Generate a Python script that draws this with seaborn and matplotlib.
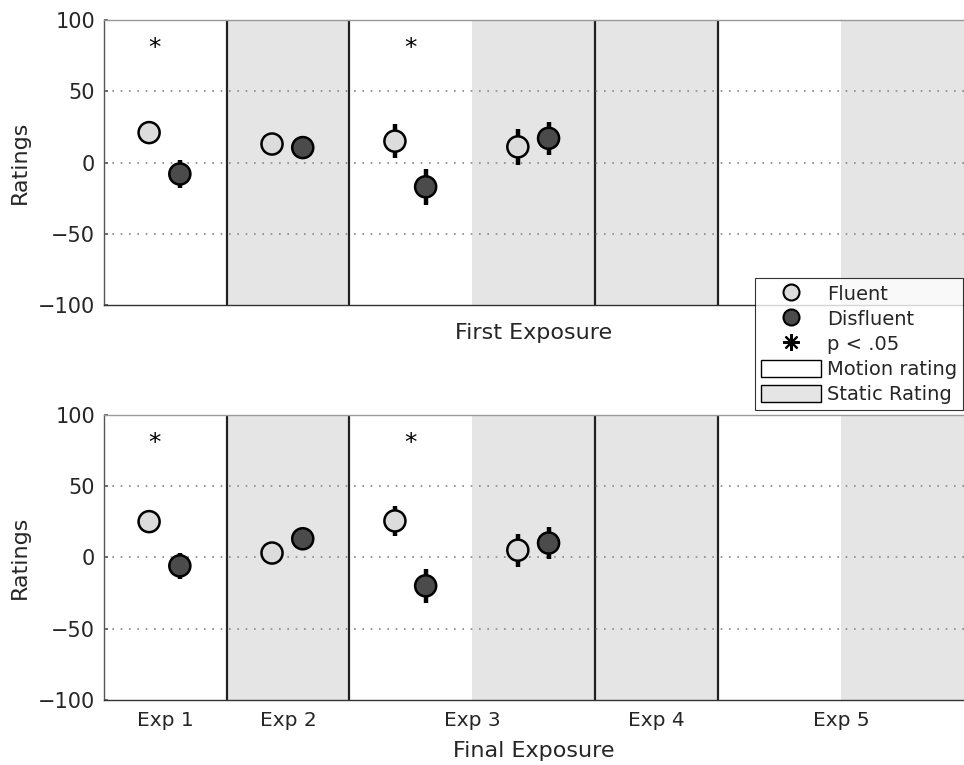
import matplotlib
matplotlib.use("Agg")
import matplotlib.pyplot as plt
from matplotlib.lines import Line2D
from matplotlib.patches import Patch
import seaborn as sns
import pandas as pd

# data
conditions = ["Exp 1", "Exp 2", "Exp 3 motion", "Exp 3 static"]
fluent_first = [21, 13, 15, 11]
fluent_first_err = [8, 4, 12, 12.5]
disfluent_first = [-8, 10.5, -17, 17]
disfluent_first_err = [9.5, 4, 12.5, 11.5]

fluent_final = [25, 3, 25.5, 5]
fluent_final_err = [6, 3, 10.5, 11.5]
disfluent_final = [-6, 13, -20, 10]
disfluent_final_err = [9, 4, 12, 11.5]

sig_conditions = ["Exp 1", "Exp 3 motion"]
sig_level = 80

exp_labels = ["Exp 1", "Exp 2", "Exp 3", "Exp 4", "Exp 5"]

# layout of the x axis: one slot per rating block
slot = {"Exp 1": 0, "Exp 2": 1, "Exp 3 motion": 2, "Exp 3 static": 3}
static_slots = [1, 3, 4, 6]
dividers = [1, 2, 4, 5]
exp_tick_pos = [0.5, 1.5, 3.0, 4.5, 6.0]
sig_offset = {"Exp 1": 0.41, "Exp 3 motion": 0.5}

sns.set_theme(style="white")
plt.rcParams["font.family"] = ["DejaVu Sans"]

fig = plt.figure(figsize=(9.64, 7.65), dpi=100)
ax_top = fig.add_axes([0.1075, 0.601, 0.8925, 0.373])
ax_bot = fig.add_axes([0.1075, 0.085, 0.8925, 0.373])

fl_color = "#dcdcdc"
dis_color = "#4b4b4b"
static_color = "#e5e5e5"


def draw_panel(ax, fl, fl_err, dis, dis_err, xlabel, show_ticks):
    df = pd.DataFrame({
        "cond": conditions * 2,
        "group": ["Fluent"] * 4 + ["Disfluent"] * 4,
        "rating": fl + dis,
        "err": fl_err + dis_err,
    })
    df["x"] = df["cond"].map(slot) + df["group"].map({"Fluent": 0.37, "Disfluent": 0.62})

    for s in static_slots:
        ax.axvspan(s, s + 1, color=static_color, zorder=0, lw=0)
    for d in dividers:
        ax.axvline(d, color="#222222", lw=1.6, zorder=1)
    for yv in [-50, 0, 50]:
        ax.axhline(yv, color="#888888", ls=(0, (1, 4)), lw=1.2, zorder=1)

    ax.errorbar(df["x"], df["rating"], yerr=df["err"], fmt="none",
                ecolor="black", elinewidth=3.2, capsize=0, zorder=2)
    sns.scatterplot(data=df, x="x", y="rating", hue="group",
                    palette={"Fluent": fl_color, "Disfluent": dis_color},
                    s=230, edgecolor="black", linewidth=1.8, legend=False,
                    zorder=3, ax=ax)

    for c in sig_conditions:
        ax.text(slot[c] + sig_offset[c], sig_level, "*", ha="center", va="center",
                fontsize=18, color="black", zorder=4)

    ax.set_xlim(0, 7)
    ax.set_ylim(-100, 100)
    ax.set_yticks([-100, -50, 0, 50, 100])
    ax.tick_params(axis="y", labelsize=15, length=3, direction="in", left=True,
                   color="#555555", pad=6)
    if show_ticks:
        ax.set_xticks(exp_tick_pos)
        ax.set_xticklabels(exp_labels, fontsize=14.5)
    else:
        ax.set_xticks([])
    ax.tick_params(axis="x", length=0, pad=8)
    ax.set_xlabel(xlabel, fontsize=16, labelpad=8 if show_ticks else 13)
    ax.set_ylabel("Ratings", fontsize=16, labelpad=6)
    ax.spines["left"].set_color("#555555")
    ax.spines["bottom"].set_color("#333333")
    ax.spines["top"].set_color("#999999")
    ax.spines["right"].set_visible(False)
    for sp in ax.spines.values():
        sp.set_linewidth(1.0)


draw_panel(ax_top, fluent_first, fluent_first_err, disfluent_first, disfluent_first_err,
           "First Exposure", False)
draw_panel(ax_bot, fluent_final, fluent_final_err, disfluent_final, disfluent_final_err,
           "Final Exposure", True)

handles = [
    Line2D([], [], ls="none", marker="o", ms=11.5, mfc=fl_color, mec="black", mew=1.5),
    Line2D([], [], ls="none", marker="o", ms=11.5, mfc=dis_color, mec="black", mew=1.5),
    Line2D([], [], ls="none", marker=(8, 2, 0), ms=12, color="black", mew=1.5),
    Patch(facecolor="white", edgecolor="black", lw=1),
    Patch(facecolor=static_color, edgecolor="black", lw=1),
]
labels = ["Fluent", "Disfluent", "p < .05", "Motion rating", "Static Rating"]
leg = fig.legend(handles, labels, loc="upper left", bbox_to_anchor=(0.783, 0.636),
                 fontsize=14, frameon=True, fancybox=False, handlelength=3.1,
                 handleheight=1.0, handletextpad=0.3, labelspacing=0.3,
                 borderpad=0.3, borderaxespad=0)
leg.get_frame().set_edgecolor("black")
leg.get_frame().set_linewidth(0.8)
leg.set_zorder(10)

fig.savefig("out.png", dpi=100)
